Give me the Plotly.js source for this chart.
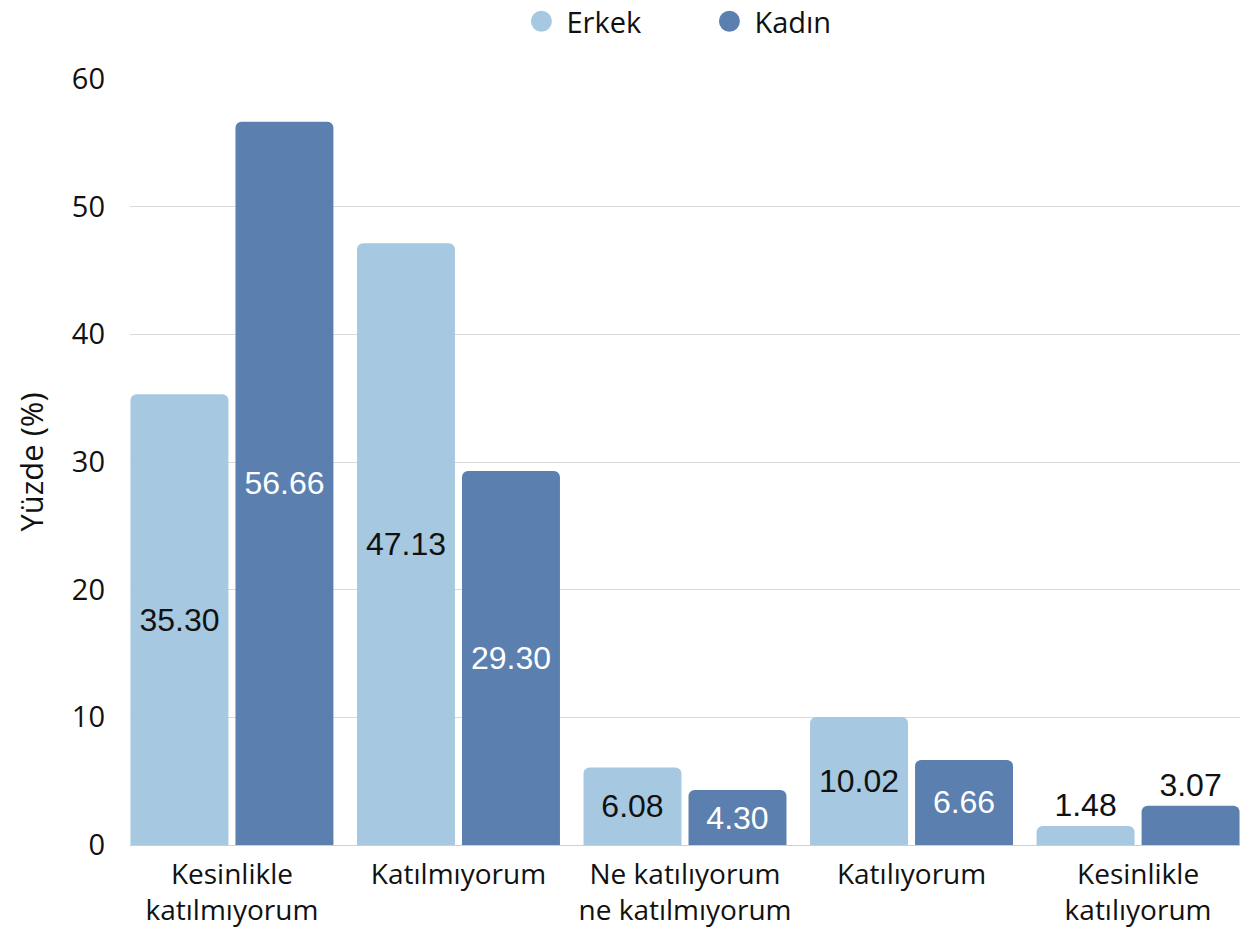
<!DOCTYPE html>
<html><head><meta charset="utf-8">
<script src="https://cdn.plot.ly/plotly-3.0.1.min.js"></script>
<style>body{margin:0;background:#fff}#c{width:1245px;height:932px}</style>
</head><body><div id="c"></div>
<script>
const categories = ["Kesinlikle<br>katılmıyorum", "Katılmıyorum", "Ne katılıyorum<br>ne katılmıyorum", "Katılıyorum", "Kesinlikle<br>katılıyorum"];
const erkek = [35.30, 47.13, 6.08, 10.02, 1.48];
const kadin = [56.66, 29.30, 4.30, 6.66, 3.07];
const seriesNames = ["Erkek", "Kadın"];
const colors = ["#a6c8e0", "#5b7faf"];
const FONT = "'Open Sans', sans-serif";
const LBL = "'Liberation Sans', Arial, sans-serif";

function pos(v){ return v < 4 ? "outside" : "inside"; }
const traces = [
  {type:"bar", x:categories, y:erkek, name:seriesNames[0], marker:{color:colors[0]},
   text:erkek.map(v=>v.toFixed(2)), textposition:erkek.map(pos), insidetextanchor:"middle",
   textfont:{family:LBL, size:32, color:"#111"}, constraintext:"none", cliponaxis:false, showlegend:false},
  {type:"bar", x:categories, y:kadin, name:seriesNames[1], marker:{color:colors[1]},
   text:kadin.map(v=>v.toFixed(2)), textposition:kadin.map(pos), insidetextanchor:"middle",
   textfont:{family:LBL, size:32, color:kadin.map(v=>v<4?"#111":"#fff")}, constraintext:"none", cliponaxis:false, showlegend:false},
  {type:"scatter", mode:"markers", x:[null], y:[null], name:seriesNames[0], marker:{color:colors[0], size:30, symbol:"circle", line:{color:colors[0], width:8}}, showlegend:true},
  {type:"scatter", mode:"markers", x:[null], y:[null], name:seriesNames[1], marker:{color:colors[1], size:30, symbol:"circle", line:{color:colors[1], width:8}}, showlegend:true}
];
const layout = {
  width:1245, height:932,
  margin:{l:130, r:5, t:79, b:87},
  paper_bgcolor:"#fff", plot_bgcolor:"#fff",
  font:{family:FONT, color:"#111"},
  barmode:"group", bargap:0.073, bargroupgap:0.067, barcornerradius:6,
  showlegend:true,
  legend:{orientation:"h", x:0.5175, xanchor:"center", yref:"container", y:0.977, yanchor:"middle", font:{size:29, family:FONT}, itemwidth:40, entrywidth:133, traceorder:"normal"},
  xaxis:{type:"category", range:[-0.45, 4.45], tickfont:{size:28, family:FONT}, ticklabelstandoff:10, showgrid:false, showline:false, ticks:"", automargin:false},
  yaxis:{range:[0,60], dtick:10, tickfont:{size:29, family:FONT}, gridcolor:"#d9d9d9", gridwidth:1, zeroline:true, zerolinecolor:"#cfcfcf",
         ticks:"", ticklabelstandoff:24, title:{text:"Yüzde (%)", font:{size:31, family:FONT}, standoff:18}, automargin:false}
};
Plotly.newPlot("c", traces, layout, {displayModeBar:false, staticPlot:true});
</script></body></html>
